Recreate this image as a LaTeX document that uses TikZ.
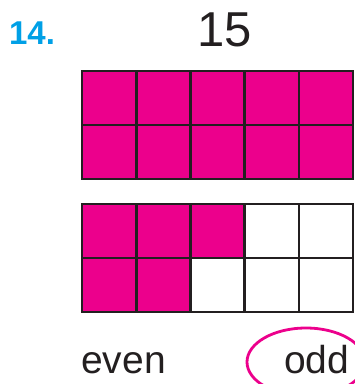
\documentclass[tikz,border=0pt]{standalone}
\usepackage{fontspec}
\setmainfont{Liberation Sans}
\usetikzlibrary{positioning}
\definecolor{pink}{HTML}{EC008C}
\definecolor{numblue}{HTML}{00A0E6}
\definecolor{gridgray}{HTML}{231F20}

\begin{document}
\begin{tikzpicture}[x=1pt,y=-1pt,
					cell/.style={rectangle, draw=gridgray, line width=2.6pt, minimum width=54.2pt, minimum height=54pt, inner sep=0pt},
					full/.style={cell, fill=pink},
					empty/.style={cell, fill=white}]
					\useasboundingbox (0,0) rectangle (355,384);
					\clip (0,0) rectangle (355,384);
					\node[text=numblue, font=\bfseries\fontsize{33}{33}\selectfont, inner sep=0pt] (num) at (32,33) {14.};
					\node[text=gridgray, font=\fontsize{49}{49}\selectfont, inner sep=0pt] (total) at (225,30) {15};
					% first frame: all ten filled
					\foreach \i in {1,...,5}
						\foreach \j in {1,2}
							\node[full] (a\i\j) at ({82+54.2*(\i-0.5)},{71+54*(\j-0.5)}) {};
					% second frame: five filled
					\foreach \i/\j/\s in {1/1/full,2/1/full,3/1/full,4/1/empty,5/1/empty,
										1/2/full,2/2/full,3/2/empty,4/2/empty,5/2/empty}
						\node[\s] (b\i\j) at ({82+54.2*(\i-0.5)},{204+54*(\j-0.5)}) {};
					\node[anchor=base west, inner sep=0pt, text=gridgray, font=\fontsize{39}{39}\selectfont] (even) at (81,373) {even};
					\node[anchor=base west, inner sep=0pt, text=gridgray, font=\fontsize{39}{39}\selectfont] (odd) at (284,373) {odd};
					\draw[pink, line width=2.8pt] (306,362) ellipse [x radius=59, y radius=34];
				\end{tikzpicture}
\end{document}
